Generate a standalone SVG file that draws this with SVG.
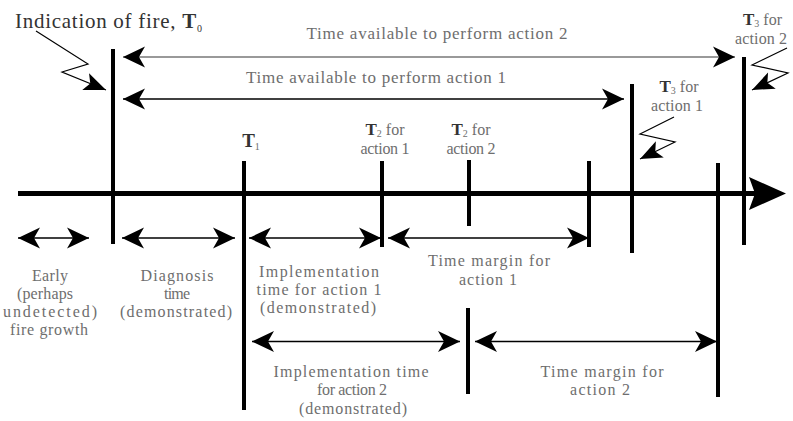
<svg xmlns="http://www.w3.org/2000/svg" width="793" height="421" viewBox="0 0 793 421">
<style>
.lbl{font-family:"Liberation Serif","Times New Roman",serif;font-size:16px;fill:#6e6e6e;text-anchor:middle}
.tb{font-weight:bold;fill:#333}
.sub{font-size:10px}
.tick{stroke:#000;stroke-width:4;fill:none}
.dim{stroke:#000;stroke-width:1.5;fill:none}
.lead{stroke:#000;stroke-width:1.2;fill:none}
</style>
<defs>
<marker id="ah" viewBox="-23 -11 24 22" refX="0" refY="0" markerWidth="24" markerHeight="22" markerUnits="userSpaceOnUse" orient="auto-start-reverse">
<path d="M0,0 L-22,-10.5 L-16,0 L-22,10.5 Z" fill="#000"/>
</marker>
<marker id="lh" viewBox="-23 -10 24 20" refX="0" refY="0" markerWidth="24" markerHeight="20" markerUnits="userSpaceOnUse" orient="auto">
<path d="M0,0 L-22,-9 L-17,0 L-22,9 Z" fill="#000"/>
</marker>
</defs>
<rect width="793" height="421" fill="#fff"/>

<g id="axis">
<line x1="18" y1="193.5" x2="756" y2="193.5" stroke="#000" stroke-width="5"/>
<polygon points="749,177 786,193.5 749,210 755,193.5" fill="#000"/>
</g>

<g id="t0">
<line class="tick" x1="113" y1="49" x2="113" y2="244"/>
<text class="lbl" x="15" y="28" style="text-anchor:start;font-size:21px;fill:#333" textLength="187" lengthAdjust="spacing">Indication of fire, <tspan class="tb">T</tspan><tspan class="sub" dy="4">0</tspan></text>
</g>

<g id="t1">
<line class="tick" x1="244" y1="161" x2="244" y2="410"/>
<text class="lbl" x="251" y="147"><tspan class="tb" style="font-size:19px">T</tspan><tspan class="sub" dy="3">1</tspan></text>
</g>

<g id="t2-action1">
<line class="tick" x1="382" y1="161" x2="382" y2="247"/>
<text class="lbl" x="385" y="135"><tspan class="tb" style="font-size:17px">T</tspan><tspan class="sub" dy="2">2</tspan><tspan dy="-2"> for</tspan></text>
<text class="lbl" x="385" y="154" textLength="49" lengthAdjust="spacing">action 1</text>
</g>

<g id="t2-action2">
<line class="tick" x1="469" y1="160" x2="469" y2="226"/>
<line class="tick" x1="468" y1="308" x2="468" y2="394"/>
<text class="lbl" x="471" y="135"><tspan class="tb" style="font-size:17px">T</tspan><tspan class="sub" dy="2">2</tspan><tspan dy="-2"> for</tspan></text>
<text class="lbl" x="471" y="154" textLength="49" lengthAdjust="spacing">action 2</text>
</g>

<g id="end-action1">
<line class="tick" x1="589" y1="161" x2="589" y2="247"/>
</g>

<g id="t3-action1">
<line class="tick" x1="632" y1="84" x2="632" y2="253"/>
<text class="lbl" x="679" y="92"><tspan class="tb" style="font-size:17px">T</tspan><tspan class="sub" dy="2">3</tspan><tspan dy="-2"> for</tspan></text>
<text class="lbl" x="677" y="111" textLength="52" lengthAdjust="spacing">action 1</text>
</g>

<g id="end-action2">
<line class="tick" x1="718" y1="163" x2="718" y2="397"/>
</g>

<g id="t3-action2">
<line class="tick" x1="744" y1="57" x2="744" y2="245"/>
<text class="lbl" x="743" y="25" style="text-anchor:start"><tspan class="tb" style="font-size:17px">T</tspan><tspan class="sub" dy="2">3</tspan><tspan dy="-2"> for</tspan></text>
<text class="lbl" x="735" y="44" style="text-anchor:start" textLength="52" lengthAdjust="spacing">action 2</text>
</g>

<g id="label-avail2">
<text class="lbl" x="437" y="39" style="font-size:17px" textLength="261" lengthAdjust="spacing">Time available to perform action 2</text>
</g>
<g id="label-avail1">
<text class="lbl" x="376" y="83" style="font-size:17px" textLength="260" lengthAdjust="spacing">Time available to perform action 1</text>
</g>

<g id="label-early">
<text class="lbl" x="50" y="281" textLength="36" lengthAdjust="spacing">Early</text>
<text class="lbl" x="45" y="299" textLength="56" lengthAdjust="spacing">(perhaps</text>
<text class="lbl" x="50" y="317" textLength="94" lengthAdjust="spacing">undetected)</text>
<text class="lbl" x="49" y="335" textLength="78" lengthAdjust="spacing">fire growth</text>
</g>

<g id="label-diagnosis">
<text class="lbl" x="177" y="281" textLength="73" lengthAdjust="spacing">Diagnosis</text>
<text class="lbl" x="177" y="299" textLength="26" lengthAdjust="spacing">time</text>
<text class="lbl" x="176" y="317" textLength="112" lengthAdjust="spacing">(demonstrated)</text>
</g>

<g id="label-impl1">
<text class="lbl" x="319" y="277" textLength="120" lengthAdjust="spacing">Implementation</text>
<text class="lbl" x="319" y="295" textLength="125" lengthAdjust="spacing">time for action 1</text>
<text class="lbl" x="318" y="313" textLength="116" lengthAdjust="spacing">(demonstrated)</text>
</g>

<g id="label-margin1">
<text class="lbl" x="489" y="266" textLength="122" lengthAdjust="spacing">Time margin for</text>
<text class="lbl" x="488" y="285" textLength="58" lengthAdjust="spacing">action 1</text>
</g>

<g id="label-impl2">
<text class="lbl" x="351" y="377" textLength="155" lengthAdjust="spacing">Implementation time</text>
<text class="lbl" x="352" y="395" textLength="70" lengthAdjust="spacing">for action 2</text>
<text class="lbl" x="353" y="414" textLength="108" lengthAdjust="spacing">(demonstrated)</text>
</g>

<g id="label-margin2">
<text class="lbl" x="602" y="377" textLength="123" lengthAdjust="spacing">Time margin for</text>
<text class="lbl" x="600" y="395" textLength="60" lengthAdjust="spacing">action 2</text>
</g>

<g id="connectors">
<line x1="123" y1="57" x2="735" y2="57" stroke="#777" stroke-width="1.5" marker-start="url(#ah)" marker-end="url(#ah)"/>
<line class="dim" x1="123" y1="99" x2="624" y2="99" marker-start="url(#ah)" marker-end="url(#ah)"/>
<line class="dim" x1="18" y1="238" x2="89" y2="238" marker-start="url(#ah)" marker-end="url(#ah)"/>
<line class="dim" x1="122" y1="238" x2="235" y2="238" marker-start="url(#ah)" marker-end="url(#ah)"/>
<line class="dim" x1="249" y1="238" x2="381" y2="238" marker-start="url(#ah)" marker-end="url(#ah)"/>
<line class="dim" x1="388" y1="238" x2="589" y2="238" marker-start="url(#ah)" marker-end="url(#ah)"/>
<line class="dim" x1="252" y1="341.5" x2="460" y2="341.5" marker-start="url(#ah)" marker-end="url(#ah)"/>
<line class="dim" x1="475" y1="341.5" x2="717" y2="341.5" marker-start="url(#ah)" marker-end="url(#ah)"/>
<polyline class="lead" points="36,31 88,64 62,72 106,90" marker-end="url(#lh)"/>
<polyline class="lead" points="674,117 640,134 675,142 640,159" marker-end="url(#lh)"/>
<polyline class="lead" points="787,48 752,65 788,73 752,90" marker-end="url(#lh)"/>
</g>
</svg>
